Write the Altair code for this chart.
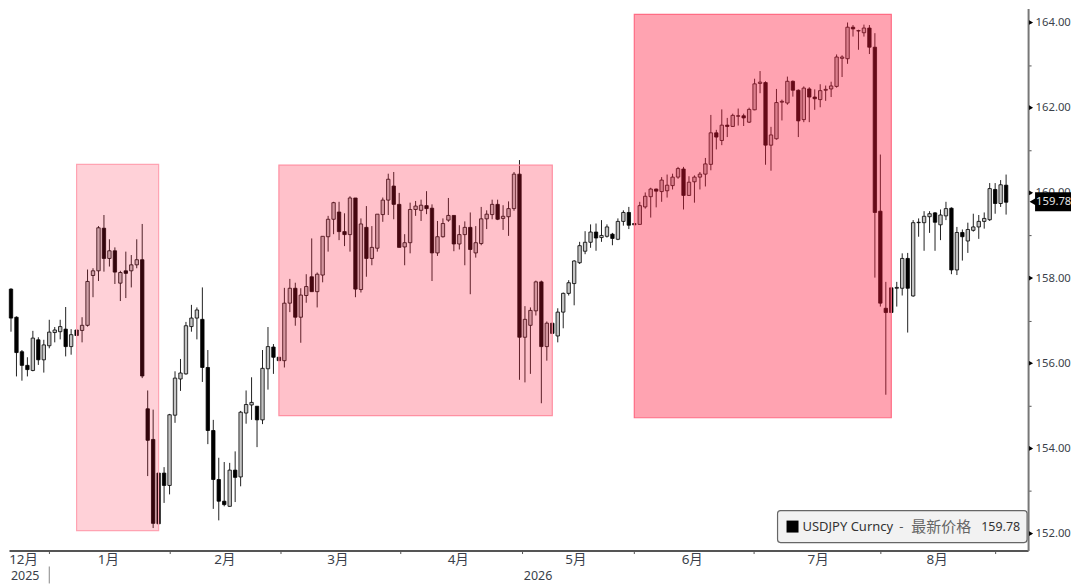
import pandas as pd
import altair as alt

# --- USDJPY daily bars ---
opens = [
    157.74, 157.08, 156.27, 155.95, 155.83, 156.55, 156.08, 156.41, 156.72, 156.74,
    156.80, 156.39, 156.78, 156.77, 156.89, 158.06, 158.17, 159.17, 158.46, 158.64,
    157.88, 158.17, 158.17, 158.31, 158.43, 154.93, 154.21, 153.42, 153.42, 153.13,
    154.78, 155.63, 155.75, 156.86, 157.06, 157.03, 155.90, 154.42, 153.27, 152.76,
    152.64, 153.49, 153.33, 154.83, 155.02, 154.99, 154.67, 155.87, 156.38, 156.14,
    156.06, 157.41, 157.76, 157.08, 157.59, 158.03, 157.68, 158.07, 158.97, 159.38,
    159.55, 159.09, 159.02, 159.88, 157.73, 159.19, 158.46, 158.70, 159.49, 159.83,
    160.16, 159.73, 158.73, 158.83, 159.61, 159.59, 159.70, 159.64, 158.59, 158.97,
    159.36, 159.47, 158.80, 159.02, 159.19, 158.59, 158.81, 159.39, 159.49, 159.73,
    159.40, 159.44, 159.63, 160.44, 156.61, 156.89, 157.23, 157.91, 156.39, 156.94,
    156.64, 157.20, 157.64, 157.87, 158.36, 158.63, 158.84, 159.08, 158.95, 158.98,
    159.03, 158.91, 159.33, 159.54, 159.28, 159.26, 159.67, 159.91, 160.09, 160.03,
    160.05, 160.17, 160.37, 160.56, 159.94, 160.26, 160.37, 160.44, 160.67, 161.41,
    161.23, 161.59, 161.56, 161.80, 161.81, 161.66, 161.95, 162.57, 162.59, 161.12,
    161.27, 162.13, 162.11, 162.62, 162.41, 161.72, 162.44, 162.25, 162.19, 162.41,
    162.44, 162.50, 163.16, 163.15, 163.89, 163.80, 163.76, 163.87, 163.42, 159.57,
    157.29, 157.77, 157.76, 157.76, 158.46, 157.58, 159.30, 159.30, 159.44, 159.53,
    159.25, 159.46, 159.64, 158.19, 159.07, 158.87, 159.12, 159.20, 159.33, 159.37,
    160.08, 159.75, 160.18,
]
closes = [
    157.06, 156.25, 155.95, 155.85, 156.59, 156.08, 156.43, 156.73, 156.78, 156.86,
    156.39, 156.67, 156.65, 156.89, 157.92, 158.17, 159.18, 158.46, 158.64, 158.14,
    158.13, 158.11, 158.31, 158.43, 155.70, 154.19, 152.24, 152.23, 153.13, 154.79,
    155.65, 155.77, 156.88, 157.06, 157.25, 155.90, 154.42, 153.27, 152.76, 152.68,
    153.49, 153.32, 154.85, 155.03, 155.08, 154.67, 155.88, 156.39, 156.14, 156.06,
    157.41, 157.76, 157.08, 157.60, 157.80, 157.68, 158.09, 158.98, 159.38, 159.77,
    159.09, 159.02, 159.88, 157.74, 159.27, 158.46, 158.72, 159.50, 159.83, 160.32,
    159.73, 158.72, 158.83, 159.61, 159.69, 159.71, 159.63, 158.59, 158.97, 159.28,
    159.47, 158.80, 159.02, 159.19, 158.67, 158.83, 159.39, 159.50, 159.73, 159.38,
    159.45, 159.63, 160.44, 156.61, 157.03, 157.24, 157.91, 156.39, 156.94, 156.70,
    157.20, 157.64, 157.89, 158.40, 158.76, 158.84, 159.08, 158.94, 159.00, 159.20,
    158.93, 159.33, 159.54, 159.24, 159.25, 159.70, 159.92, 160.09, 160.04, 160.30,
    160.18, 160.37, 160.57, 159.94, 160.25, 160.37, 160.44, 160.68, 161.41, 161.31,
    161.59, 161.56, 161.82, 161.81, 161.76, 161.96, 162.56, 162.60, 161.12, 161.36,
    162.12, 162.15, 162.62, 162.41, 161.69, 162.46, 162.25, 162.21, 162.40, 162.43,
    162.51, 163.19, 163.19, 163.89, 163.85, 163.81, 163.87, 163.42, 159.54, 157.41,
    157.19, 157.19, 157.78, 158.46, 157.76, 159.30, 159.31, 159.45, 159.51, 159.31,
    159.48, 159.63, 158.19, 159.07, 158.97, 159.14, 159.20, 159.33, 159.40, 160.10,
    159.75, 160.19, 159.78,
]
highs = [
    157.76, 157.10, 156.31, 156.14, 156.76, 156.61, 156.55, 157.02, 156.85, 157.02,
    157.32, 156.80, 156.78, 157.08, 158.20, 158.23, 159.22, 159.48, 158.91, 158.72,
    158.17, 158.62, 158.54, 158.91, 159.27, 155.36, 154.91, 153.42, 153.56, 154.81,
    155.81, 156.10, 156.97, 157.37, 157.31, 157.78, 156.31, 154.67, 153.78, 153.68,
    153.66, 153.93, 154.88, 155.36, 155.67, 154.99, 156.31, 156.85, 156.45, 156.14,
    157.77, 157.98, 157.89, 157.76, 158.09, 158.93, 158.13, 158.98, 159.46, 159.79,
    159.79, 159.52, 159.92, 159.88, 159.40, 159.69, 159.22, 159.50, 159.89, 160.45,
    160.49, 160.00, 159.03, 159.77, 159.81, 159.84, 160.04, 159.73, 159.34, 159.40,
    159.88, 159.47, 159.24, 159.33, 159.54, 159.22, 159.67, 159.59, 159.84, 159.84,
    159.71, 159.80, 160.49, 160.77, 157.34, 157.31, 157.94, 157.94, 156.98, 156.94,
    157.29, 157.66, 157.95, 158.42, 158.85, 159.10, 159.26, 159.28, 159.36, 159.26,
    159.06, 159.40, 159.59, 159.67, 159.28, 159.79, 160.01, 160.12, 160.10, 160.37,
    160.43, 160.45, 160.61, 160.61, 160.39, 160.41, 160.49, 160.82, 161.83, 161.48,
    161.96, 161.76, 161.86, 161.98, 161.86, 162.00, 162.68, 162.86, 162.62, 161.55,
    162.44, 162.19, 162.73, 162.64, 162.43, 162.50, 162.48, 162.43, 162.55, 162.52,
    162.61, 163.25, 163.23, 164.00, 163.94, 163.83, 163.95, 163.94, 163.75, 160.90,
    157.91, 157.77, 157.91, 158.58, 158.59, 159.36, 159.40, 159.57, 159.57, 159.55,
    159.61, 159.79, 159.66, 159.20, 159.14, 159.30, 159.51, 159.48, 159.54, 160.23,
    160.23, 160.30, 160.43,
]
lows = [
    156.74, 155.69, 155.59, 155.69, 155.81, 155.96, 155.78, 156.35, 156.49, 156.56,
    156.16, 156.20, 156.65, 156.49, 156.86, 157.55, 157.93, 158.15, 158.27, 157.86,
    157.46, 157.53, 157.78, 158.23, 155.65, 153.35, 152.13, 152.23, 152.72, 152.92,
    154.60, 155.35, 155.73, 156.74, 156.56, 155.56, 154.10, 152.58, 152.31, 152.64,
    152.63, 152.74, 153.11, 154.58, 154.67, 154.03, 154.57, 155.38, 155.75, 156.06,
    155.90, 157.20, 156.88, 156.48, 157.42, 157.68, 157.31, 157.90, 158.62, 159.03,
    158.89, 158.75, 158.62, 157.55, 157.66, 158.03, 158.30, 158.62, 159.32, 159.48,
    159.38, 158.72, 158.30, 158.58, 159.46, 159.34, 159.50, 157.93, 158.52, 158.95,
    159.32, 158.63, 158.67, 158.30, 157.62, 158.48, 158.77, 159.15, 159.38, 159.36,
    159.13, 158.99, 159.58, 155.61, 155.55, 155.75, 157.12, 155.06, 156.06, 156.70,
    156.49, 156.82, 157.59, 157.36, 158.33, 158.56, 158.71, 158.64, 158.85, 158.95,
    158.77, 158.89, 159.23, 159.15, 159.25, 159.26, 159.63, 159.42, 159.66, 159.79,
    159.89, 160.08, 160.33, 159.61, 159.93, 159.77, 160.08, 160.15, 160.53, 161.02,
    161.12, 161.31, 161.55, 161.58, 161.57, 161.64, 161.94, 162.34, 160.66, 160.52,
    161.25, 161.70, 162.07, 162.26, 161.31, 161.66, 161.66, 161.95, 162.01, 162.16,
    162.25, 162.47, 162.72, 163.03, 163.67, 163.36, 163.67, 163.26, 158.01, 157.33,
    155.26, 157.19, 157.33, 157.59, 156.72, 157.56, 158.97, 158.64, 159.06, 158.64,
    158.89, 159.36, 158.09, 158.07, 158.41, 158.59, 159.09, 158.92, 159.16, 159.34,
    159.51, 159.67, 159.49,
]

# --- Shaded periods ---
zone_start = [13, 50, 115]
zone_end = [28, 100, 162]
zone_top = [160.67, 160.65, 164.19]
zone_bottom = [152.07, 154.77, 154.72]
zone_alpha = [0.2, 0.27, 0.4]
zone_edge = ["#ffa3b2", "#ff90a2", "#ff6c84"]

# --- Axis values ---
month_ticks = [8, 30, 50.3, 72.2, 94.4, 115, 136.8, 160, 181]
month_labels = ["12月", "1月", "2月", "3月", "4月", "5月", "6月", "7月", "8月"]
month_centers = [3.3, 18.8, 40.1, 60.8, 82.8, 104.3, 125.6, 148.6, 170.4]
year_labels = ["2025", "2026"]
year_centers = [3.6, 97.4]
year_divider = [8]
price_ticks = list(range(152, 165))
price_majors = [152, 154, 156, 158, 160, 162, 164]
last_price = 159.78

FONT = "Noto Sans, Noto Sans CJK SC"
TEXT = "#3a3f4a"

bars = pd.DataFrame({"o": opens, "c": closes, "h": highs, "l": lows})
bars["bar"] = range(1, len(bars) + 1)
bars["dir"] = ["up" if c >= o else "down" for o, c in zip(opens, closes)]

x_scale = alt.Scale(domain=[0.635, 187.02], nice=False, zero=False, padding=0)
y_scale = alt.Scale(domain=[151.602, 164.328], nice=False, zero=False, padding=0)

x_axis = alt.Axis(
    values=month_ticks, labels=False, grid=False, title=None, tickSize=3,
    tickColor="#555555", domainColor="#555555", domainWidth=2,
)
y_axis = alt.Axis(
    orient="right", values=price_ticks, grid=False, title=None, tickSize=3,
    tickColor="#555555", domainColor="#777777", domainWidth=2, labelPadding=4,
    labelExpr="datum.value % 2 == 0 ? format(datum.value, '.2f') : ''",
    labelFont=FONT, labelFontSize=11.3, labelColor=TEXT,
)
X = alt.X("bar:Q", scale=x_scale, axis=x_axis)

# --- Bougies ---
wicks = (
    alt.Chart(bars)
    .mark_rule(color="#222222", strokeWidth=1)
    .encode(x=X, y=alt.Y("h:Q", scale=y_scale, axis=y_axis), y2="l:Q")
)
bodies = (
    alt.Chart(bars)
    .mark_bar(size=3.4, stroke="#000000", strokeWidth=0.8)
    .encode(
        x=X,
        y=alt.Y("o:Q", scale=y_scale, axis=y_axis),
        y2="c:Q",
        fill=alt.Fill("dir:N", scale=alt.Scale(domain=["up", "down"], range=["#c4c4c4", "#000000"]), legend=None),
    )
)

# --- Zones roses ---
shades = []
for k in range(len(zone_start)):
    zone = pd.DataFrame({
        "x0": [zone_start[k]], "x1": [zone_end[k]],
        "y0": [zone_top[k]], "y1": [zone_bottom[k]],
    })
    shades.append(
        alt.Chart(zone)
        .mark_rect(fill="#ff193c", fillOpacity=zone_alpha[k], stroke=zone_edge[k], strokeWidth=1.2)
        .encode(
            x=alt.X("x0:Q", scale=x_scale, axis=x_axis),
            x2="x1:Q",
            y=alt.Y("y0:Q", scale=y_scale, axis=y_axis),
            y2="y1:Q",
        )
    )

# --- Triangles de l'axe des prix ---
majors = (
    alt.Chart(pd.DataFrame({"p": price_majors}))
    .mark_point(shape="triangle-right", filled=True, color="#000000", size=22, opacity=1)
    .encode(x=alt.value(1024), y=alt.Y("p:Q", scale=y_scale, axis=y_axis))
)

# --- Mois et années ---
months = (
    alt.Chart(pd.DataFrame({"m": month_labels, "bar": month_centers}))
    .mark_text(font=FONT, fontSize=13.5, color=TEXT)
    .encode(x=X, y=alt.value(553), text="m:N")
)
years = (
    alt.Chart(pd.DataFrame({"m": year_labels, "bar": year_centers}))
    .mark_text(font=FONT, fontSize=12.5, color=TEXT)
    .encode(x=X, y=alt.value(569), text="m:N")
)
divider = (
    alt.Chart(pd.DataFrame({"bar": year_divider}))
    .mark_rule(color="#888888", strokeWidth=1)
    .encode(x=X, y=alt.value(559), y2=alt.value(576))
)

# --- Étiquette du dernier prix ---
last = pd.DataFrame({"p": [last_price], "t": [f"{last_price:.2f}"]})
tag_box = (
    alt.Chart(last)
    .mark_rect(color="#000000")
    .encode(x=alt.value(1028), x2=alt.value(1064), y=alt.value(184), y2=alt.value(203))
)
tag_arrow = (
    alt.Chart(last)
    .mark_point(shape="triangle-left", filled=True, color="#000000", size=110, opacity=1)
    .encode(x=alt.value(1027), y=alt.value(193.5))
)
tag_text = (
    alt.Chart(last)
    .mark_text(font=FONT, fontSize=11.3, color="#e4e4e4", align="left")
    .encode(x=alt.value(1029), y=alt.value(193.5), text="t:N")
)

# --- Légende ---
legend_box = (
    alt.Chart(last)
    .mark_rect(fill="#f2f2f2", stroke="#666666", strokeWidth=1.2, cornerRadius=3)
    .encode(x=alt.value(770), x2=alt.value(1020), y=alt.value(503), y2=alt.value(535))
)
legend_key = (
    alt.Chart(last)
    .mark_rect(color="#000000")
    .encode(x=alt.value(779), x2=alt.value(791), y=alt.value(513), y2=alt.value(525))
)


def legend_piece(label, px, size, color):
    return (
        alt.Chart(pd.DataFrame({"t": [label]}))
        .mark_text(font=FONT, fontSize=size, color=color, align="left")
        .encode(x=alt.value(px), y=alt.value(519), text="t:N")
    )


legend_text = [
    legend_piece("USDJPY Curncy", 795, 13, "#333333"),
    legend_piece("-", 892, 13, "#555555"),
    legend_piece("最新价格", 904, 15, "#666666"),
    legend_piece(f"{last_price:.2f}", 974, 12.5, "#333333"),
]

chart = (
    alt.layer(
        wicks, bodies, *shades, majors, months, years, divider,
        tag_box, tag_arrow, tag_text, legend_box, legend_key, *legend_text,
    )
    .properties(width=1021, height=543, padding=0, background="#ffffff")
    .configure_view(stroke=None)
)

chart.save("out.html", embed_options={"renderer": "svg", "actions": False})
